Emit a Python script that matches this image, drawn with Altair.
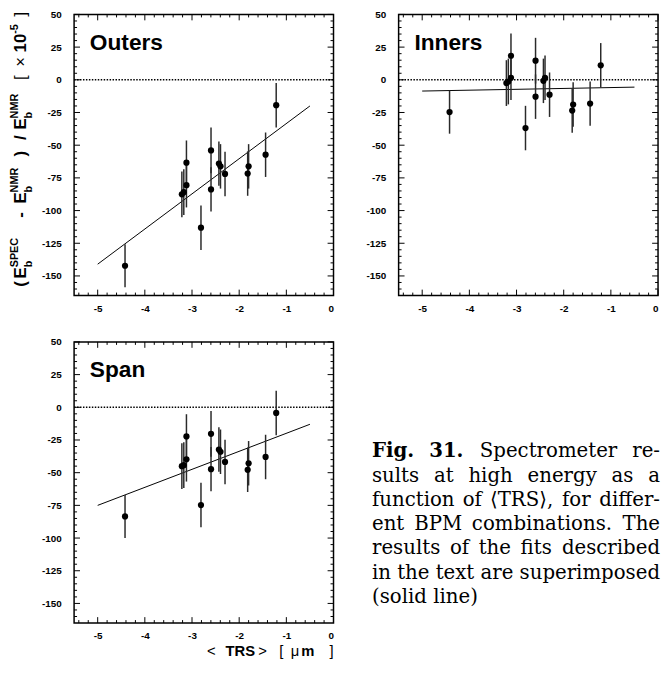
import altair as alt
import pandas as pd
import numpy as np

# ---------------- data ----------------
trs = [-4.42, -3.215, -3.174, -3.118, -3.118, -2.81, -2.597, -2.597,
       -2.43, -2.396, -2.30, -1.82, -1.80, -1.44, -1.215]
outers = [-142.2, -87.6, -85.9, -80.6, -63.4, -113.1, -54.0, -83.8,
          -64.1, -66.2, -72.0, -71.7, -66.2, -57.3, -19.4]
inners = [-24.7, -2.5, -1.3, 18.4, 1.5, -36.9, 14.6, -12.9,
          -0.8, 1.5, -11.4, -23.5, -18.9, -18.2, 11.1]
span = [-83.5, -45.0, -44.3, -39.8, -22.3, -74.8, -20.3, -47.3,
        -32.3, -34.0, -41.8, -47.8, -42.8, -38.0, -4.3]
errors = [16.5, 17.5, 17.5, 17.0, 17.0, 17.0, 17.5, 17.0,
          17.0, 17.0, 17.0, 17.0, 17.0, 17.0, 17.0]
fit_x = [-5.0, -0.5]
fit_outers = [-141.0, -20.0]
fit_inners = [-8.6, -5.6]
fit_span = [-75.0, -13.0]
x_labels = [-5, -4, -3, -2, -1, 0]
y_labels = [50, 25, 0, -25, -50, -75, -100, -125, -150]
x_minor = [v for v in np.round(np.arange(-5.4, 0.0, 0.2), 2) if abs(v - round(v)) > 1e-6]
y_minor = [v for v in range(-160, 50, 5) if v % 25 != 0]

# caption lines: list of (word, bold) ; all but the last line are justified
caption_lines = [
    [("Fig.", True), ("31.", True), ("Spectrometer", False), ("re-", False)],
    [(w, False) for w in "sults at high energy as a".split()],
    [(w, False) for w in "function of \u27e8TRS\u27e9, for differ-".split()],
    [(w, False) for w in "ent BPM combinations. The".split()],
    [(w, False) for w in "results of the fits described".split()],
    [(w, False) for w in "in the text are superimposed".split()],
    [("(solid line)", False)],
]

# ---------------- layout / style ----------------
W, H = 263, 285
XDOM = [-5.5, 0.0]
YDOM = [-165, 50]
SANS = "Liberation Sans"
SERIF = "DejaVu Serif"
MAJ, MIN = 6, 3

xs = alt.Scale(domain=XDOM, nice=False, zero=False)
ys = alt.Scale(domain=YDOM, nice=False, zero=False)
XAXIS = alt.Axis(values=x_labels, labelExpr="datum.value + ''", ticks=False,
                 domain=False, grid=False, title=None, labelFont=SANS,
                 labelFontWeight="bold", labelFontSize=10, labelPadding=8,
                 labelColor="black")
YAXIS = alt.Axis(values=y_labels, labelExpr="datum.value + ''", ticks=False,
                 domain=False, grid=False, title=None, labelFont=SANS,
                 labelFontWeight="bold", labelFontSize=10, labelPadding=13,
                 labelColor="black")


def X(f):
    return alt.X(f, scale=xs, axis=XAXIS)


def Y(f):
    return alt.Y(f, scale=ys, axis=YAXIS)


def text_piece(txt, x, y, size, weight="bold", angle=0, align="left",
               font=SANS, baseline="alphabetic"):
    return alt.Chart(alt.Data(values=[{}])).mark_text(
        text=txt, font=font, fontSize=size, fontWeight=weight, angle=angle,
        align=align, baseline=baseline, color="black"
    ).encode(x=alt.value(x), y=alt.value(y))


def tick_layers():
    layers = []
    for vals, L in ((x_labels, MAJ), (x_minor, MIN)):
        d = alt.Chart(pd.DataFrame({"t": vals}))
        layers.append(d.mark_rule(color="black", strokeWidth=1).encode(
            x=X("t:Q"), y=alt.value(H), y2=alt.value(H - L)))
        layers.append(d.mark_rule(color="black", strokeWidth=1).encode(
            x=X("t:Q"), y=alt.value(0), y2=alt.value(L)))
    for vals, L in ((y_labels, MAJ), (y_minor, MIN)):
        d = alt.Chart(pd.DataFrame({"t": vals}))
        layers.append(d.mark_rule(color="black", strokeWidth=1).encode(
            y=Y("t:Q"), x=alt.value(0), x2=alt.value(L)))
        layers.append(d.mark_rule(color="black", strokeWidth=1).encode(
            y=Y("t:Q"), x=alt.value(W), x2=alt.value(W - L)))
    return layers


def panel(name, yvals, fit_y, extra=()):
    df = pd.DataFrame({
        "trs": trs, "v": yvals,
        "lo": [v - e for v, e in zip(yvals, errors)],
        "hi": [v + e for v, e in zip(yvals, errors)],
    })
    base = alt.Chart(df)
    pts = base.mark_circle(size=40, color="black", opacity=1).encode(
        x=X("trs:Q"), y=Y("v:Q"))
    zero = alt.Chart(pd.DataFrame({"z": [0]})).mark_rule(
        color="black", strokeDash=[1.5, 1.5], strokeWidth=1.5
    ).encode(y=Y("z:Q"), x=alt.value(0), x2=alt.value(W))
    fit = alt.Chart(pd.DataFrame({"trs": fit_x, "v": fit_y})).mark_line(
        color="black", strokeWidth=1
    ).encode(x=X("trs:Q"), y=Y("v:Q"))
    err = base.mark_rule(color="#2a2a2a", strokeWidth=1.5).encode(
        x=X("trs:Q"), y=Y("lo:Q"), y2="hi:Q")
    label = text_piece(name, 16, 36, 23)
    return alt.layer(zero, fit, err, pts, *tick_layers(), label, *extra).properties(
        width=W, height=H)


# ---- y-axis title pieces (rotated), in Outers panel coordinates ----
MB, SUB, SUP = -49, -43, -57
ytitle = [
    text_piece("(", MB, 276, 17, angle=270),
    text_piece("E", MB, 267.7, 17, angle=270),
    text_piece("b", SUB, 256.4, 11, angle=270),
    text_piece("SPEC", SUP, 256.4, 11, angle=270),
    text_piece("-", MB, 206, 17, angle=270),
    text_piece("E", MB, 191.7, 17, angle=270),
    text_piece("b", SUB, 180.4, 11, angle=270),
    text_piece("NMR", SUP, 180.4, 11, angle=270),
    text_piece(")", MB, 144, 17, angle=270),
    text_piece("/", MB, 127.4, 17, angle=270),
    text_piece("E", MB, 116.7, 17, angle=270),
    text_piece("b", SUB, 105.4, 11, angle=270),
    text_piece("NMR", SUP, 105.4, 11, angle=270),
    text_piece("[", MB, 66.4, 17, weight="normal", angle=270),
    text_piece("\u00d7", MB, 53, 17, weight="normal", angle=270),
    text_piece("10", MB, 38.5, 17, angle=270),
    text_piece("-5", SUP, 19.6, 11, angle=270),
    text_piece("]", MB, 2, 17, weight="normal", angle=270),
]

# ---- x-axis title pieces, in Span panel coordinates ----
XT = 318
xtitle = [
    text_piece("<", 139, XT, 15, weight="normal", align="center"),
    text_piece("TRS", 168.5, XT, 15, align="center"),
    text_piece(">", 191, XT, 15, weight="normal", align="center"),
    text_piece("[", 210, XT, 15, weight="normal", align="center"),
    text_piece("\u03bc", 224, XT, 15, weight="normal", align="center"),
    text_piece("m", 237, XT, 15, align="center"),
    text_piece("]", 261, XT, 15, weight="normal", align="center"),
]

outers_panel = panel("Outers", outers, fit_outers, ytitle)
inners_panel = panel("Inners", inners, fit_inners)
span_panel = panel("Span", span, fit_span, xtitle)

# ---- caption (own cell; origin aligned with the Inners panel) ----
SERIF_W = {
    " ": .318, "a": .596, "b": .640, "c": .560, "d": .640, "e": .592, "f": .370,
    "g": .640, "h": .644, "i": .320, "j": .310, "k": .606, "l": .320, "m": .948,
    "n": .644, "o": .602, "p": .640, "q": .640, "r": .478, "s": .513, "t": .402,
    "u": .644, "v": .565, "w": .856, "x": .564, "y": .565, "z": .527, ".": .318,
    ",": .318, "-": .338, "(": .390, ")": .390, "B": .732, "P": .677, "M": .995,
    "T": .682, "R": .770, "S": .685, "F": .744, "3": .696, "1": .696,
    "\u27e8": .390, "\u27e9": .390,
}
CS, CL, CR, CY0, CDY = 20, -27, 265, 117, 24.6


def wwidth(word, bold):
    return sum(SERIF_W.get(c, 0.6) for c in word) * CS * (1.06 if bold else 1.0)


cap_layers = []
for i, words in enumerate(caption_lines):
    y = CY0 + CDY * i
    if len(words) == 1:
        w, b = words[0]
        cap_layers.append(text_piece(w, CL, y, CS, weight="bold" if b else "normal", font=SERIF))
        continue
    widths = [wwidth(w, b) for w, b in words]
    gap = (CR - CL - sum(widths)) / (len(words) - 1)
    x = CL
    for j, ((w, b), wd) in enumerate(zip(words, widths)):
        wt = "bold" if b else "normal"
        if j == len(words) - 1:
            cap_layers.append(text_piece(w, CR, y, CS, weight=wt, font=SERIF, align="right"))
        else:
            cap_layers.append(text_piece(w, x, y, CS, weight=wt, font=SERIF))
        x += wd + gap
caption = alt.layer(*cap_layers).properties(
    width=W, height=H, view=alt.ViewBackground(stroke="transparent"))

chart = alt.concat(
    outers_panel, inners_panel, span_panel, caption,
    columns=2, bounds="flush", spacing={"row": 47, "column": 66}
).properties(padding={"left": 0, "top": -4, "right": 0, "bottom": 0}
             ).configure_view(stroke="black", strokeWidth=1.5)

chart.save("out.html", embed_options={"renderer": "svg", "actions": False})
